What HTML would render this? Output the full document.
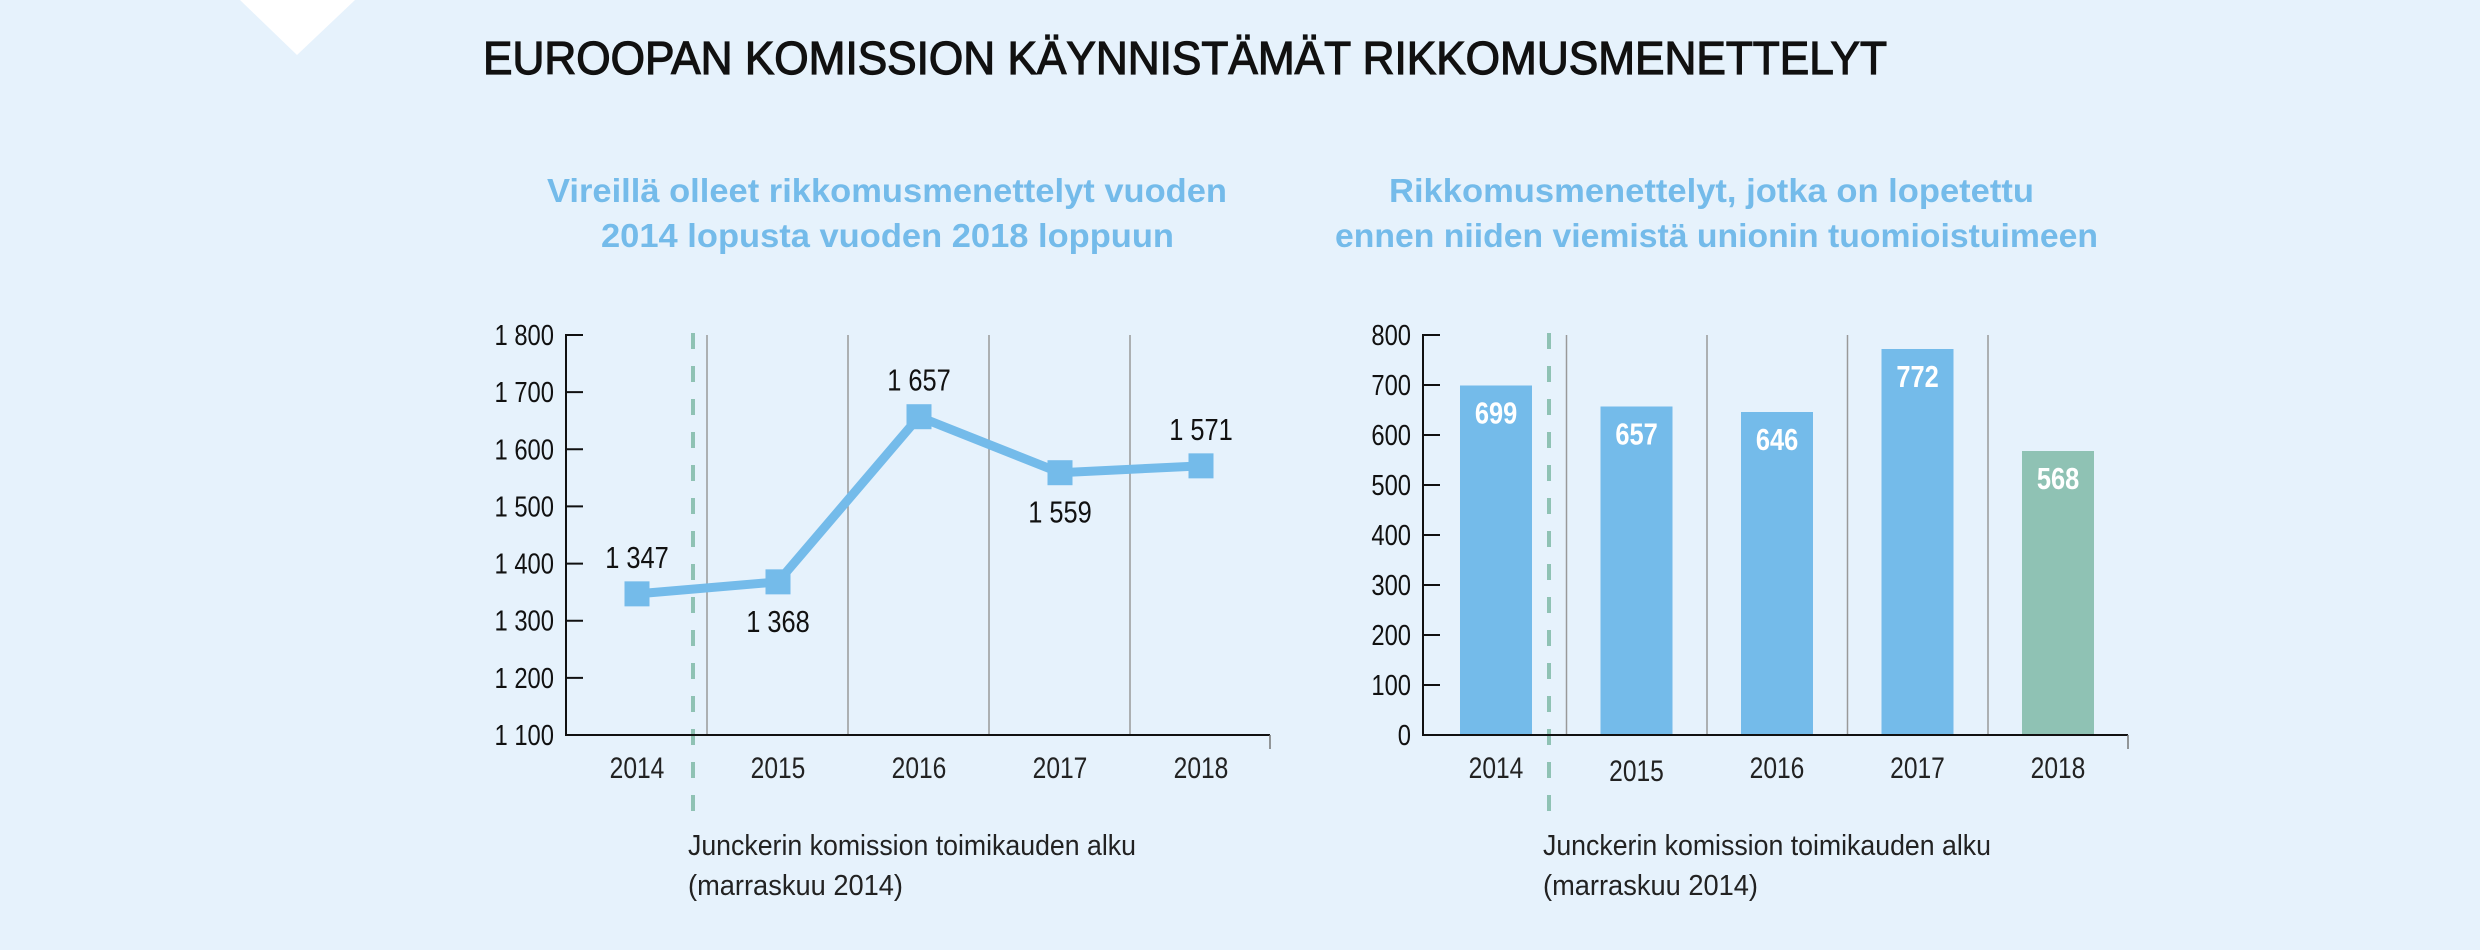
<!DOCTYPE html>
<html><head><meta charset="utf-8">
<style>
html,body{margin:0;padding:0;background:#e6f2fc;}
svg{display:block;}
text{font-family:"Liberation Sans Narrow","Liberation Sans",sans-serif;}
</style></head>
<body>
<svg id="chart" width="2480" height="950" viewBox="0 0 2480 950" xmlns="http://www.w3.org/2000/svg">
<rect x="0" y="0" width="2480" height="950" fill="#e6f2fc"/>
<polygon points="240,0 355,0 297,55" fill="#ffffff"/>
<text x="483" y="74" font-size="46" fill="#111" stroke="#111" stroke-width="1.2" textLength="1404" lengthAdjust="spacingAndGlyphs">EUROOPAN KOMISSION KÄYNNISTÄMÄT RIKKOMUSMENETTELYT</text>
<text x="547" y="202" font-size="33" font-weight="bold" fill="#74bbea" textLength="680" lengthAdjust="spacingAndGlyphs">Vireillä olleet rikkomusmenettelyt vuoden</text>
<text x="601" y="247" font-size="33" font-weight="bold" fill="#74bbea" textLength="573" lengthAdjust="spacingAndGlyphs">2014 lopusta vuoden 2018 loppuun</text>
<text x="1389" y="202" font-size="33" font-weight="bold" fill="#74bbea" textLength="645" lengthAdjust="spacingAndGlyphs">Rikkomusmenettelyt, jotka on lopetettu</text>
<text x="1335" y="247" font-size="33" font-weight="bold" fill="#74bbea" textLength="763" lengthAdjust="spacingAndGlyphs">ennen niiden viemistä unionin tuomioistuimeen</text>
<g id="left"></g>
<g id="right"></g>
<text x="688" y="855" font-size="29" fill="#222" textLength="448" lengthAdjust="spacingAndGlyphs">Junckerin komission toimikauden alku</text>
<text x="688" y="895" font-size="29" fill="#222" textLength="215" lengthAdjust="spacingAndGlyphs">(marraskuu 2014)</text>
<text x="1543" y="855" font-size="29" fill="#222" textLength="448" lengthAdjust="spacingAndGlyphs">Junckerin komission toimikauden alku</text>
<text x="1543" y="895" font-size="29" fill="#222" textLength="215" lengthAdjust="spacingAndGlyphs">(marraskuu 2014)</text>
</svg>
<script>
const years = ["2014","2015","2016","2017","2018"];
const pendingValues = [1347, 1368, 1657, 1559, 1571];
const pendingLabels = ["1 347","1 368","1 657","1 559","1 571"];
const lineTicks = [1100,1200,1300,1400,1500,1600,1700,1800];
const lineTickLabels = ["1 100","1 200","1 300","1 400","1 500","1 600","1 700","1 800"];
const closedValues = [699, 657, 646, 772, 568];
const barTicks = [0,100,200,300,400,500,600,700,800];

const NS = "http://www.w3.org/2000/svg";
function mk(parent, tag, attrs){
  const e = document.createElementNS(NS, tag);
  for (const k in attrs) e.setAttribute(k, attrs[k]);
  parent.appendChild(e);
  return e;
}
function txt(parent, x, y, s, size, anchor, fill, weight){
  const t = mk(parent, "text", {x:0, y:0, "font-size":size, "text-anchor":anchor, fill:fill, "font-weight":weight||"normal",
    transform:"translate("+x+","+y+") scale(0.82,1)"});
  t.textContent = s;
  return t;
}

// ---------- Line chart ----------
const L = document.getElementById("left");
const lx0 = 566, lx1 = 1270, ly0 = 735, ly1 = 335;
const lyMin = 1100, lyMax = 1800;
const lyS = v => ly0 - (v - lyMin) / (lyMax - lyMin) * (ly0 - ly1);
const lStep = 141;
const lxS = i => 637 + i * lStep;
for (let i = 1; i < years.length; i++){
  const g = mk(L, "line", {x1:lxS(i)-71, x2:lxS(i)-71, y1:ly1, y2:ly0, stroke:"#999", "stroke-width":1.5});
  
  
}
const ld = mk(L, "line", {x1:693, x2:693, y1:333, y2:815, stroke:"#8fc2b4", "stroke-width":4, "stroke-dasharray":"16 17"});


const lya = mk(L, "line", {x1:lx0, x2:lx0, y1:ly1-1, y2:ly0+1, stroke:"#111", "stroke-width":2});


const lxa = mk(L, "line", {x1:lx0, x2:lx1, y1:ly0, y2:ly0, stroke:"#111", "stroke-width":2});


const lxe = mk(L, "line", {x1:lx1, x2:lx1, y1:ly0, y2:ly0+14, stroke:"#777", "stroke-width":1.5});


lineTicks.forEach((v, i) => {
  const tk = mk(L, "line", {x1:lx0, x2:lx0+17, y1:lyS(v), y2:lyS(v), stroke:"#111", "stroke-width":2});
  
  
  const tl = txt(L, 554, lyS(v)+10, lineTickLabels[i], 29, "end", "#111");
  
  
});
years.forEach((y, i) => {
  const t = txt(L, lxS(i), 778, y, 30, "middle", "#222");
  
  
});
const pts = pendingValues.map((v, i) => lxS(i) + "," + lyS(v)).join(" ");
const pl = mk(L, "polyline", {points:pts, fill:"none", stroke:"#74bbea", "stroke-width":9, "stroke-linejoin":"miter"});


const labelAbove = [true, false, true, false, true];
pendingValues.forEach((v, i) => {
  const m = mk(L, "rect", {x:lxS(i)-12.5, y:lyS(v)-12.5, width:25, height:25, fill:"#74bbea"});
  
  
  const ly = labelAbove[i] ? lyS(v) - 26 : lyS(v) + 50;
  const t = txt(L, lxS(i), ly, pendingLabels[i], 31, "middle", "#111");
  
  
});

// ---------- Bar chart ----------
const R = document.getElementById("right");
const rx0 = 1423, rx1 = 2128, ry0 = 735, ry1 = 335;
const ryS = v => ry0 - v / 800 * (ry0 - ry1);
const rxS = i => 1496 + i * 140.5;
const barW = 72;
for (let i = 1; i < years.length; i++){
  const g = mk(R, "line", {x1:rxS(i)-70, x2:rxS(i)-70, y1:ry1, y2:ry0, stroke:"#999", "stroke-width":1.5});
  
  
}
closedValues.forEach((v, i) => {
  const b = mk(R, "rect", {x:rxS(i)-barW/2, y:ryS(v), width:barW, height:ry0-ryS(v), fill: i === years.length-1 ? "#8fc2b4" : "#74bbea"});
  
  
  const t = txt(R, rxS(i), ryS(v)+38, String(v), 31, "middle", "#ffffff", "bold");
  
  
  const yl = txt(R, rxS(i), i === 1 ? 781 : 778, years[i], 30, "middle", "#222");
  
  
});
const rd = mk(R, "line", {x1:1549, x2:1549, y1:333, y2:815, stroke:"#8fc2b4", "stroke-width":4, "stroke-dasharray":"16 17"});


const rya = mk(R, "line", {x1:rx0, x2:rx0, y1:ry1-1, y2:ry0+1, stroke:"#111", "stroke-width":2});


const rxa = mk(R, "line", {x1:rx0, x2:rx1, y1:ry0, y2:ry0, stroke:"#111", "stroke-width":2});


const rxe = mk(R, "line", {x1:rx1, x2:rx1, y1:ry0, y2:ry0+14, stroke:"#777", "stroke-width":1.5});


barTicks.forEach(v => {
  const tk = mk(R, "line", {x1:rx0, x2:rx0+17, y1:ryS(v), y2:ryS(v), stroke:"#111", "stroke-width":2});
  
  
  const tl = txt(R, 1411, ryS(v)+10, String(v), 29, "end", "#111");
  
  
});
</script>
</body></html>
